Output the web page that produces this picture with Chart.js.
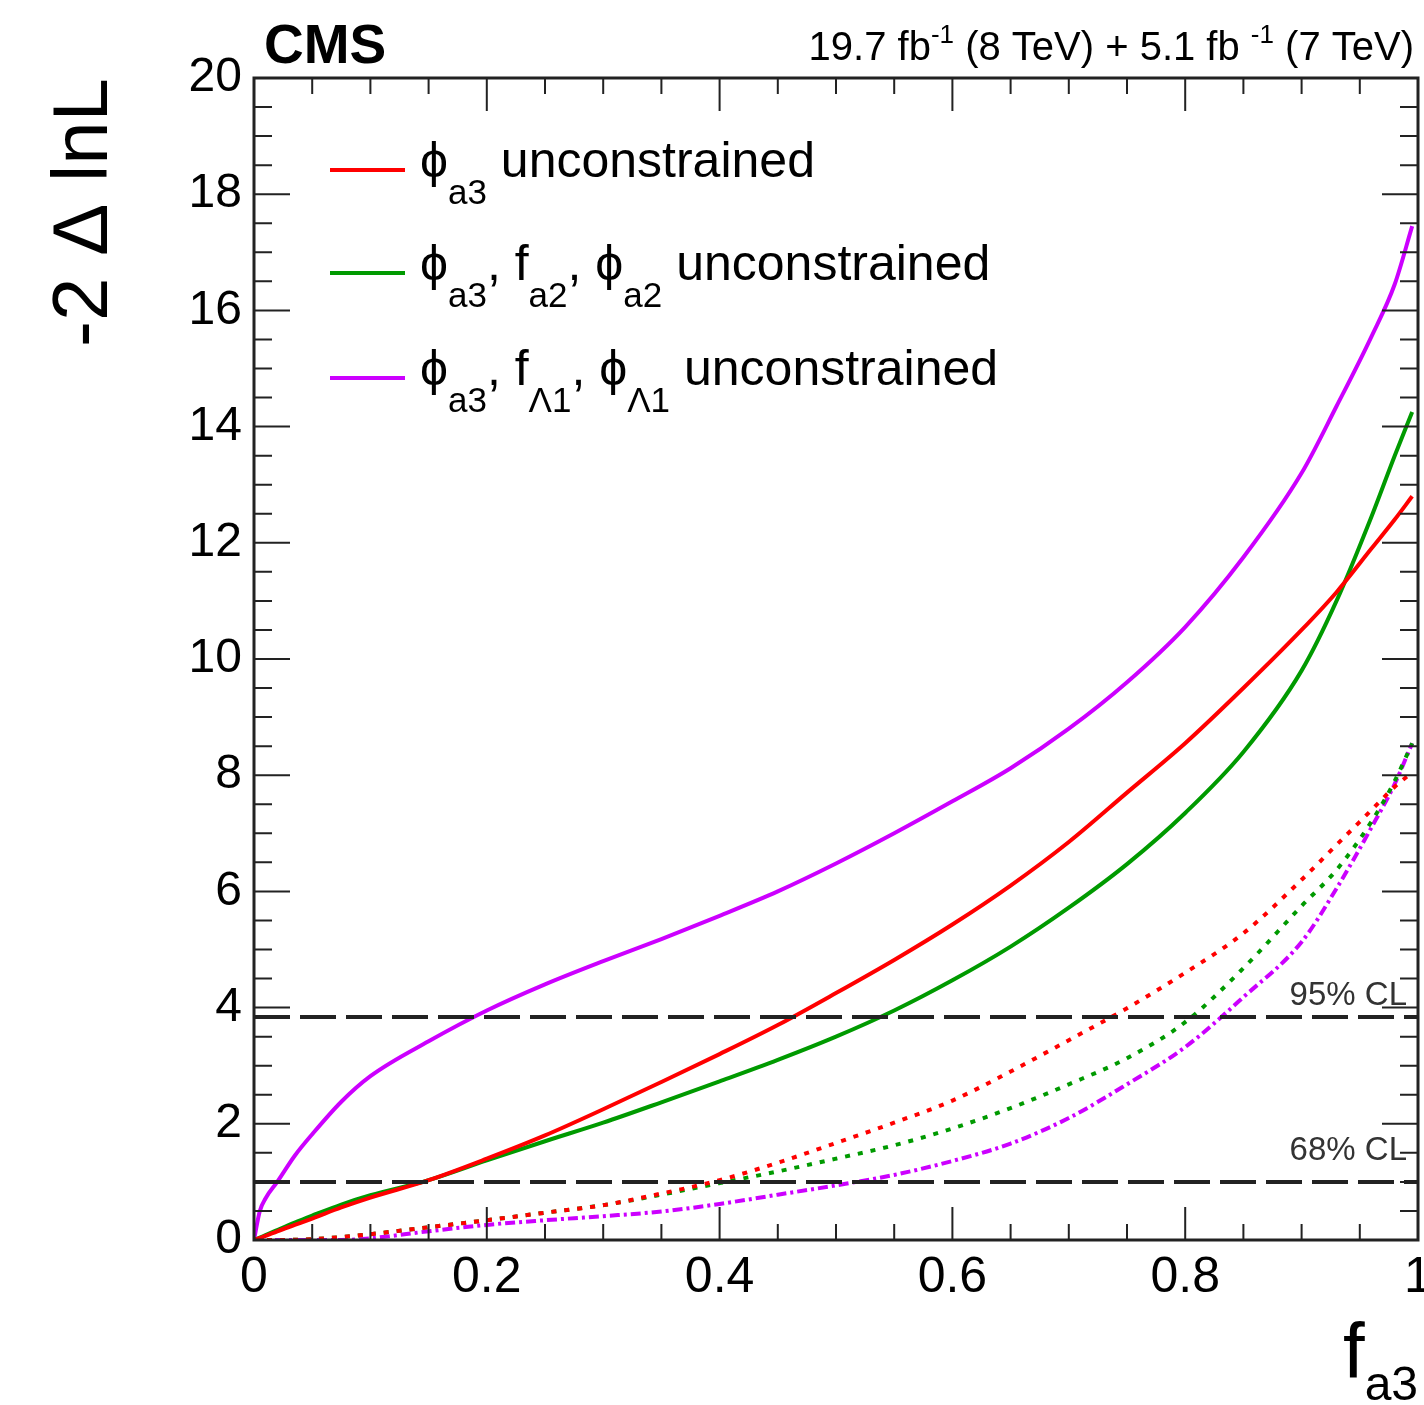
<!DOCTYPE html>
<html>
<head>
<meta charset="utf-8">
<script src="https://cdn.jsdelivr.net/npm/chart.js@4.4.1/dist/chart.umd.min.js"></script>
<style>
  html, body { margin: 0; padding: 0; background: #fff; }
  canvas { display: block; }
</style>
</head>
<body>
<canvas id="nll-chart" width="1424" height="1405"></canvas>
<script>
// f_a3 scan points (shared by all curves)
const fa3 = [0, 0.005, 0.01, 0.02, 0.035, 0.05, 0.075, 0.1, 0.15, 0.2, 0.25, 0.3, 0.35, 0.4,
             0.45, 0.5, 0.55, 0.6, 0.65, 0.7, 0.75, 0.8, 0.85, 0.9, 0.93, 0.96, 0.98, 0.995];

// observed (solid)
const phiA3Obs = [0, 0.035, 0.07, 0.15, 0.26, 0.37, 0.56, 0.73, 1.03, 1.4, 1.8, 2.25, 2.72, 3.2,
                  3.7, 4.25, 4.82, 5.43, 6.1, 6.85, 7.7, 8.55, 9.5, 10.5, 11.15, 11.9, 12.4, 12.8];
const fa2Obs = [0, 0.04, 0.085, 0.17, 0.3, 0.42, 0.61, 0.77, 1.03, 1.37, 1.7, 2.02, 2.37, 2.73,
                3.1, 3.5, 3.95, 4.47, 5.05, 5.72, 6.47, 7.35, 8.4, 9.8, 11.0, 12.45, 13.5, 14.25];
const fL1Obs = [0, 0.5, 0.72, 1.0, 1.45, 1.82, 2.38, 2.82, 3.42, 3.95, 4.4, 4.8, 5.18, 5.58,
                6.0, 6.48, 7.0, 7.55, 8.12, 8.8, 9.6, 10.55, 11.75, 13.2, 14.35, 15.55, 16.45, 17.45];

// expected (dotted)
const phiA3Exp = [0, 0, 0, 0, 0.005, 0.015, 0.05, 0.1, 0.22, 0.34, 0.47, 0.6, 0.8, 1.03,
                  1.33, 1.67, 2.02, 2.4, 2.9, 3.44, 3.99, 4.6, 5.28, 6.2, 6.8, 7.4, 7.8, 8.05];
const fa2Exp = [0, 0, 0, 0, 0.005, 0.015, 0.05, 0.1, 0.22, 0.34, 0.47, 0.6, 0.78, 0.98,
                1.18, 1.4, 1.63, 1.92, 2.27, 2.68, 3.13, 3.75, 4.68, 5.75, 6.37, 7.2, 7.9, 8.55];
const fL1Exp = [0, 0, 0, 0, 0, 0, 0, 0.03, 0.15, 0.26, 0.34, 0.41, 0.49, 0.62,
                0.78, 0.94, 1.12, 1.36, 1.66, 2.1, 2.68, 3.32, 4.18, 5.13, 6.05, 7.1, 7.85, 8.55];

const cl68 = 1.0;
const cl95 = 3.84;

const xMin = 0, xMax = 1, xStep = 0.2, xMinor = 0.05;
const yMin = 0, yMax = 20, yStep = 2, yMinor = 0.5;

const RED = '#ff0000';
const GREEN = '#009a00';
const VIOLET = '#cc00ff';
const FONT = '"Liberation Sans", Arial, Helvetica, sans-serif';
const PHI = '\u03d5';

Chart.defaults.font.family = FONT;
Chart.defaults.color = '#000';

function pts(ys) {
    return fa3.map((x, i) => ({ x: x, y: ys[i] }));
}

function curve(ys, color, dash) {
    return {
        data: pts(ys),
        borderColor: color,
        borderWidth: 4,
        borderDash: dash || [],
        pointRadius: 0,
        showLine: true,
        fill: false,
        cubicInterpolationMode: 'monotone'
    };
}

function clLine(v) {
    return {
        data: [{ x: xMin, y: v }, { x: xMax, y: v }],
        borderColor: '#222',
        borderWidth: 4,
        borderDash: [36, 10],
        pointRadius: 0,
        showLine: true,
        fill: false
    };
}

// draws a row of text pieces (for sub/superscripts)
function drawParts(ctx, parts, x, y, alignRight) {
    let total = 0;
    parts.forEach(p => {
        ctx.font = (p.bold ? 'bold ' : '') + p.size + 'px ' + FONT;
        p.w = ctx.measureText(p.t).width;
        total += p.w;
    });
    if (alignRight) x -= total;
    parts.forEach(p => {
        ctx.font = (p.bold ? 'bold ' : '') + p.size + 'px ' + FONT;
        ctx.fillText(p.t, x, y + (p.dy || 0));
        x += p.w;
    });
}

const frameAndText = {
    id: 'frameAndText',
    afterDraw(chart) {
        const { ctx, chartArea: a, scales } = chart;
        const sx = scales.x, sy = scales.y;
        ctx.save();

        // inner ticks on all four sides
        ctx.strokeStyle = '#222';
        ctx.lineWidth = 2;
        ctx.beginPath();
        const nx = Math.round((xMax - xMin) / xMinor);
        for (let i = 0; i <= nx; i++) {
            const v = xMin + i * xMinor;
            const px = sx.getPixelForValue(v);
            const len = (i % Math.round(xStep / xMinor) === 0) ? 33 : 16;
            ctx.moveTo(px, a.bottom); ctx.lineTo(px, a.bottom - len);
            ctx.moveTo(px, a.top); ctx.lineTo(px, a.top + len);
        }
        const ny = Math.round((yMax - yMin) / yMinor);
        for (let i = 0; i <= ny; i++) {
            const v = yMin + i * yMinor;
            const py = sy.getPixelForValue(v);
            const len = (i % Math.round(yStep / yMinor) === 0) ? 36 : 18;
            ctx.moveTo(a.left, py); ctx.lineTo(a.left + len, py);
            ctx.moveTo(a.right, py); ctx.lineTo(a.right - len, py);
        }
        ctx.stroke();

        ctx.lineWidth = 3;
        ctx.strokeRect(a.left, a.top, a.right - a.left, a.bottom - a.top);

        ctx.fillStyle = '#000';
        ctx.textBaseline = 'alphabetic';
        ctx.textAlign = 'left';

        // header
        drawParts(ctx, [{ t: 'CMS', size: 55, bold: true }], 264, 63);
        drawParts(ctx, [
            { t: '19.7 fb', size: 40 },
            { t: '-1', size: 26, dy: -17 },
            { t: ' (8 TeV) + 5.1 fb ', size: 40 },
            { t: '-1', size: 26, dy: -17 },
            { t: ' (7 TeV)', size: 40 }
        ], 1414, 60, true);

        // axis titles
        ctx.save();
        ctx.translate(107, 78);
        ctx.rotate(-Math.PI / 2);
        ctx.textAlign = 'right';
        ctx.font = '78px ' + FONT;
        ctx.fillText('-2 \u0394 lnL', 0, 0);
        ctx.restore();

        drawParts(ctx, [{ t: 'f', size: 78 }, { t: 'a3', size: 48, dy: 22 }], 1343, 1378);

        // legend
        const rows = [
            { color: RED, y: 177, parts: [
                { t: PHI, size: 50 }, { t: 'a3', size: 35, dy: 27 },
                { t: ' unconstrained', size: 50 }] },
            { color: GREEN, y: 280, parts: [
                { t: PHI, size: 50 }, { t: 'a3', size: 35, dy: 27 }, { t: ', f', size: 50 },
                { t: 'a2', size: 35, dy: 27 }, { t: ', ' + PHI, size: 50 },
                { t: 'a2', size: 35, dy: 27 }, { t: ' unconstrained', size: 50 }] },
            { color: VIOLET, y: 385, parts: [
                { t: PHI, size: 50 }, { t: 'a3', size: 35, dy: 27 }, { t: ', f', size: 50 },
                { t: '\u039b1', size: 35, dy: 27 }, { t: ', ' + PHI, size: 50 },
                { t: '\u039b1', size: 35, dy: 27 }, { t: ' unconstrained', size: 50 }] }
        ];
        rows.forEach(r => {
            ctx.strokeStyle = r.color;
            ctx.lineWidth = 4;
            ctx.beginPath();
            ctx.moveTo(330, r.y - 7);
            ctx.lineTo(405, r.y - 7);
            ctx.stroke();
            drawParts(ctx, r.parts, 420, r.y);
        });

        // CL labels
        ctx.fillStyle = '#333';
        drawParts(ctx, [{ t: '95% CL', size: 33 }], 1407, 1005, true);
        drawParts(ctx, [{ t: '68% CL', size: 33 }], 1407, 1160, true);

        ctx.restore();
    }
};

window.onload = function() {
    const ctx = document.getElementById('nll-chart').getContext('2d');
    new Chart(ctx, {
        type: 'scatter',
        data: {
            datasets: [
                clLine(cl95),
                clLine(cl68),
                curve(phiA3Obs, RED),
                curve(fa2Obs, GREEN),
                curve(fL1Obs, VIOLET),
                curve(phiA3Exp, RED, [5, 8]),
                curve(fa2Exp, GREEN, [5, 8]),
                curve(fL1Exp, VIOLET, [10, 4, 3, 4])
            ]
        },
        options: {
            responsive: false,
            animation: false,
            layout: { padding: { top: 78, right: 6, left: 0, bottom: 0 } },
            plugins: {
                legend: { display: false },
                tooltip: { enabled: false }
            },
            scales: {
                x: {
                    type: 'linear',
                    min: xMin,
                    max: xMax,
                    grid: { display: false, drawTicks: false },
                    border: { display: false },
                    ticks: {
                        stepSize: xStep,
                        padding: 8,
                        font: { size: 50 },
                        color: '#000',
                        maxRotation: 0,
                        callback: v => String(+v.toFixed(1))
                    },
                    afterFit: s => { s.height = 165; s.paddingLeft = 0; s.paddingRight = 0; }
                },
                y: {
                    min: yMin,
                    max: yMax,
                    grid: { display: false, drawTicks: false },
                    border: { display: false },
                    ticks: {
                        stepSize: yStep,
                        padding: 12,
                        font: { size: 48 },
                        color: '#000'
                    },
                    afterFit: s => { s.width = 254; s.paddingTop = 0; s.paddingBottom = 0; }
                }
            }
        },
        plugins: [frameAndText]
    });
};
</script>
</body>
</html>
